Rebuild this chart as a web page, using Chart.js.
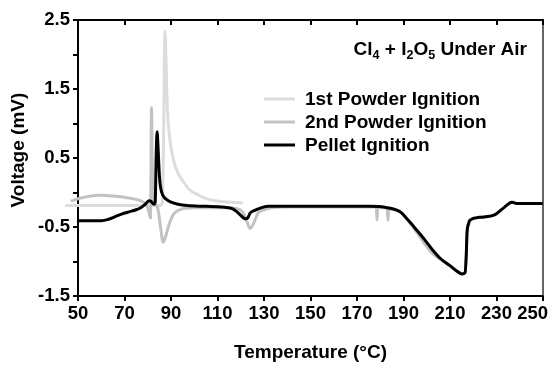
<!DOCTYPE html>
<html>
<head>
<meta charset="utf-8">
<script src="https://cdn.jsdelivr.net/npm/chart.js@4/dist/chart.umd.min.js"></script>
<style>
html,body{margin:0;padding:0;background:#fff;}
#c{display:block;}
</style>
</head>
<body>
<canvas id="c" width="549" height="391"></canvas>
<script>
// ---- Data ----
const xTicks = [50, 70, 90, 110, 130, 150, 170, 190, 210, 230, 250];
const yLabelTicks = [2.5, 1.5, 0.5, -0.5, -1.5];

const seriesLabels = ["1st Powder Ignition", "2nd Powder Ignition", "Pellet Ignition"];

const powder1T = [45, 55, 65, 75, 85, 86.3, 86.8, 87.4, 87.8, 88.2, 88.7, 89.6, 91, 93, 95, 98, 102, 106, 112, 120.5];
const powder1V = [-0.19, -0.19, -0.19, -0.19, -0.19, -0.15, 0.8, 2.34, 2.0, 1.45, 1.05, 0.75, 0.48, 0.28, 0.17, 0.04, -0.04, -0.10, -0.13, -0.15];

const powder2T = [47.4, 50, 54, 59.5, 65, 70, 75, 78, 80, 81.2, 81.4, 81.6, 82.0, 82.5, 83.5, 84.5, 85.5, 86.6, 87.5, 89, 91, 93, 96, 100, 110, 116, 119, 121, 123, 124, 125.5, 127.4, 130, 133, 140, 160, 176, 178.3, 178.6, 178.9, 183, 183.3, 183.6, 188.5, 192, 195.8, 199, 202.7, 206, 210, 213, 215.2, 216.5, 217, 217.3, 218, 218.6, 222.9, 229.4, 232.8, 236.7, 238.8, 250];
const powder2V = [-0.12, -0.09, -0.06, -0.04, -0.05, -0.07, -0.10, -0.14, -0.22, -0.37, 0.4, 1.23, 0.3, -0.12, -0.18, -0.26, -0.50, -0.72, -0.66, -0.48, -0.32, -0.26, -0.23, -0.22, -0.22, -0.22, -0.24, -0.29, -0.45, -0.52, -0.45, -0.30, -0.25, -0.22, -0.21, -0.21, -0.21, -0.21, -0.40, -0.22, -0.22, -0.40, -0.24, -0.28, -0.41, -0.58, -0.74, -0.89, -0.97, -1.06, -1.14, -1.18, -1.16, -0.9, -0.6, -0.45, -0.40, -0.36, -0.32, -0.23, -0.14, -0.16, -0.16];

const pelletT = [50, 55, 60, 63, 66, 69, 72, 75, 77, 79, 80.5, 81.5, 82.5, 83.2, 83.6, 84.0, 84.5, 85.0, 85.5, 86.5, 88, 90, 93, 97, 105, 112, 116, 118, 120, 121.8, 123, 124, 126, 129, 132, 140, 160, 175, 183, 188.5, 192, 195.8, 199, 202.7, 206, 210, 213, 215.2, 216.5, 217, 217.3, 218, 218.6, 222.9, 229.4, 232.8, 236.7, 238.8, 245, 250];
const pelletV = [-0.41, -0.41, -0.41, -0.39, -0.35, -0.31, -0.28, -0.25, -0.22, -0.17, -0.12, -0.13, -0.17, -0.14, 0.5, 0.88, 0.6, 0.25, 0.08, -0.04, -0.10, -0.14, -0.17, -0.19, -0.20, -0.21, -0.23, -0.27, -0.33, -0.38, -0.37, -0.30, -0.26, -0.22, -0.20, -0.20, -0.20, -0.20, -0.22, -0.28, -0.40, -0.55, -0.68, -0.84, -0.96, -1.06, -1.14, -1.18, -1.16, -0.9, -0.6, -0.45, -0.40, -0.36, -0.32, -0.23, -0.14, -0.16, -0.16, -0.16];

const seriesColors = ["#dcdcdc", "#c2c2c2", "#000000"];

function pts(T, V) { return T.map((t, i) => ({x: t, y: V[i]})); }

const FONT = "'Liberation Sans', Arial, Helvetica, sans-serif";
const NB = "\u00A0";

const decor = {
  id: 'decor',
  afterDraw(chart) {
    const {ctx, chartArea: a, scales: {x, y}} = chart;
    ctx.save();
    // top and right frame
    ctx.strokeStyle = '#000';
    ctx.lineWidth = 2;
    ctx.beginPath();
    ctx.moveTo(a.left, a.top);
    ctx.lineTo(a.right + 1, a.top);
    ctx.stroke();
    ctx.lineWidth = 1.5;
    ctx.strokeStyle = '#333';
    ctx.beginPath();
    ctx.moveTo(a.right, a.top);
    ctx.lineTo(a.right, a.bottom);
    ctx.stroke();
    // tick marks: inward on top, outward on bottom and left
    ctx.strokeStyle = '#000';
    ctx.lineWidth = 2;
    ctx.beginPath();
    x.ticks.forEach(t => {
      const px = Math.round(x.getPixelForValue(t.value));
      ctx.moveTo(px, a.top);
      ctx.lineTo(px, a.top + 5);
      ctx.moveTo(px, a.bottom);
      ctx.lineTo(px, a.bottom + 5);
    });
    y.ticks.forEach(t => {
      const py = Math.round(y.getPixelForValue(t.value));
      ctx.moveTo(a.left, py);
      ctx.lineTo(a.left - 5, py);
    });
    ctx.stroke();

    // legend
    ctx.font = "bold 19px " + FONT;
    ctx.textBaseline = 'middle';
    ctx.textAlign = 'left';
    const legY = [99, 122, 145];
    chart.data.datasets.forEach((ds, i) => {
      ctx.strokeStyle = ds.borderColor;
      ctx.lineWidth = 3;
      ctx.beginPath();
      ctx.moveTo(264, legY[i]);
      ctx.lineTo(295, legY[i]);
      ctx.stroke();
      ctx.fillStyle = '#000';
      ctx.fillText(ds.label, 305, legY[i] + 1);
    });

    // annotation title with subscripts
    const parts = [["Cl", 0], ["4", 1], [" + I", 0], ["2", 1], ["O", 0], ["5", 1], [" Under Air", 0]];
    const big = "bold 19px " + FONT, small = "bold 12.5px " + FONT;
    let total = 0;
    parts.forEach(([t, s]) => { ctx.font = s ? small : big; total += ctx.measureText(t).width; });
    let xx = 527 - total;
    ctx.textBaseline = 'alphabetic';
    ctx.fillStyle = '#000';
    parts.forEach(([t, s]) => {
      ctx.font = s ? small : big;
      ctx.fillText(t, xx, s ? 59 : 55);
      xx += ctx.measureText(t).width;
    });
    ctx.restore();
  }
};

new Chart(document.getElementById('c'), {
  type: 'line',
  data: {
    datasets: [
      {label: seriesLabels[0], data: pts(powder1T, powder1V), borderColor: seriesColors[0], borderWidth: 3, order: 2,
       clip: {left: 14, right: 0, top: 0, bottom: 0}},
      {label: seriesLabels[1], data: pts(powder2T, powder2V), borderColor: seriesColors[1], borderWidth: 3, order: 1,
       clip: {left: 14, right: 0, top: 0, bottom: 0}},
      {label: seriesLabels[2], data: pts(pelletT, pelletV), borderColor: seriesColors[2], borderWidth: 3, order: 0}
    ]
  },
  options: {
    responsive: false,
    animation: false,
    devicePixelRatio: 1,
    elements: {
      point: {radius: 0, hoverRadius: 0},
      line: {tension: 0, cubicInterpolationMode: 'monotone', borderJoinStyle: 'round', borderCapStyle: 'round'}
    },
    layout: {padding: {left: 0, right: 6, top: 20, bottom: 0}},
    plugins: {legend: {display: false}, tooltip: {enabled: false}},
    scales: {
      x: {
        type: 'linear',
        min: 50, max: 250,
        ticks: {
          stepSize: 20, autoSkip: false, maxRotation: 0, padding: 7,
          color: '#000', font: {family: FONT, size: 18.5, weight: 'bold'},
          callback: v => xTicks.includes(v) ? (v === 250 ? '250' + NB + NB + NB + NB : String(v)) : ''
        },
        grid: {display: false, drawOnChartArea: false, tickLength: 0},
        border: {display: true, color: '#000', width: 2},
        title: {display: true, text: 'Temperature (\u00B0C)', color: '#000',
                font: {family: FONT, size: 19, weight: 'bold'}, padding: {top: 0, bottom: 26.6}},
        afterFit(s) { s.height = 95; s.paddingLeft = 0; s.paddingRight = 0; }
      },
      y: {
        type: 'linear',
        min: -1.5, max: 2.5,
        ticks: {
          stepSize: 0.5, autoSkip: false, padding: 8,
          color: '#000', font: {family: FONT, size: 18.5, weight: 'bold'},
          callback: v => yLabelTicks.some(t => Math.abs(t - v) < 1e-6) ? v.toFixed(1) : ''
        },
        grid: {display: false, drawOnChartArea: false, tickLength: 0},
        border: {display: true, color: '#000', width: 2},
        title: {display: true, text: NB + NB + NB + 'Voltage (mV)', color: '#000',
                font: {family: FONT, size: 19, weight: 'bold'}, padding: {top: 7.6, bottom: 0}},
        afterFit(s) { s.width = 78; s.paddingTop = 0; s.paddingBottom = 0; }
      }
    }
  },
  plugins: [decor]
});
</script>
</body>
</html>
